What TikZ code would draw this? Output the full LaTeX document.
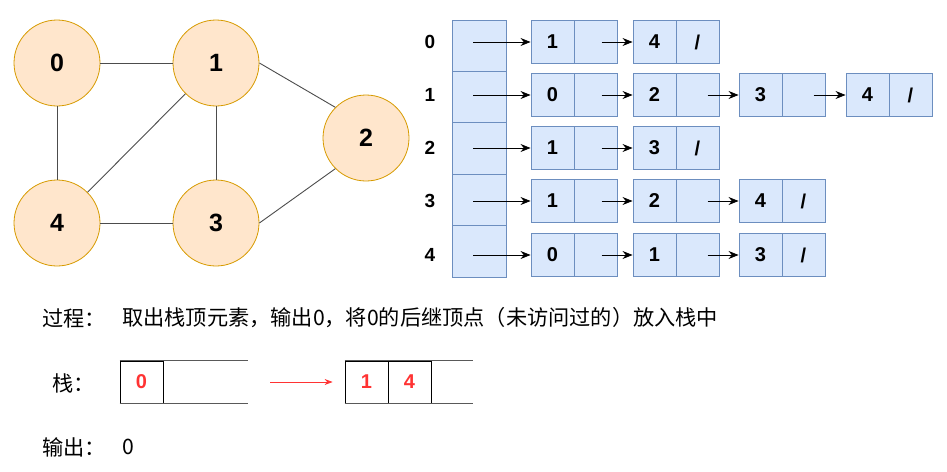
\documentclass[tikz,border=0pt]{standalone}
\usepackage{fontspec}
\setmainfont{Liberation Sans}
\newfontfamily\cjk{Noto Sans CJK SC}
\usetikzlibrary{arrows.meta,calc}
\definecolor{vfill}{HTML}{FFE6CC}
\definecolor{vdraw}{HTML}{D79B00}
\definecolor{bfill}{HTML}{DAE8FC}
\definecolor{bdraw}{HTML}{6C8EBF}
\definecolor{myred}{HTML}{FF3333}
\newcommand{\mklist}[5]{%
  \node[cell] (#1) at (#2+21.5,#3) {#4};
  \node[cell] (#1p) at (#2+64.5,#3) {#5};}
\begin{document}
\begin{tikzpicture}[x=1pt,y=-1pt,
 vert/.style={circle,fill=vfill,draw=vdraw,line width=0.8pt,minimum size=86pt,inner sep=0pt,font=\fontsize{25}{25}\selectfont\bfseries},
 edge/.style={draw=black!70,line width=0.9pt},
 cell/.style={rectangle,fill=bfill,draw=bdraw,line width=0.9pt,minimum height=43pt,minimum width=43pt,inner sep=0pt,font=\fontsize{20}{20}\selectfont\bfseries},
 arrcell/.style={rectangle,fill=bfill,draw=bdraw,line width=0.9pt,minimum height=51.4pt,minimum width=54pt,inner sep=0pt},
 rowlab/.style={font=\fontsize{19}{19}\selectfont\bfseries},
 arr/.style={draw=black,line width=0.8pt,-{Stealth[length=10pt,width=8pt]}},
 stk/.style={rectangle,draw=black,line width=0.8pt,minimum height=42pt,minimum width=43pt,inner sep=0pt,text=myred,font=\fontsize{20}{20}\selectfont\bfseries},
 stkline/.style={draw=black!65,line width=1.4pt},
 cjktxt/.style={font=\cjk\fontsize{21.2}{21.2}\selectfont,inner sep=0pt,anchor=west}
]
\useasboundingbox (0,0) rectangle (947,471);
% graph
\node[vert] (v0) at (57,63) {0};
\node[vert] (v1) at (216,63) {1};
\node[vert] (v2) at (366,138) {2};
\node[vert] (v3) at (216,223) {3};
\node[vert] (v4) at (57,223) {4};
\draw[edge] (v0) -- (v1);
\draw[edge] (v0) -- (v4);
\draw[edge] (v1) -- (v4);
\draw[edge] (v1) -- (v3);
\draw[edge] (v4) -- (v3);
\draw[edge] (v1.east) -- (v2.north west);
\draw[edge] (v3.east) -- (v2.south west);
% array
\foreach \i in {0,...,4}{
  \node[arrcell] (a\i) at (479,{45.7+51.4*\i}) {};
}
\node[rowlab] (l0) at (430,42) {0};
\node[rowlab] (l1) at (430,95) {1};
\node[rowlab] (l2) at (430,148) {2};
\node[rowlab] (l3) at (430,201) {3};
\node[rowlab] (l4) at (430,255) {4};
% lists
\mklist{r0a}{531}{42}{1}{}
\mklist{r0b}{633}{42}{4}{/}
\mklist{r1a}{531}{95}{0}{}
\mklist{r1b}{633}{95}{2}{}
\mklist{r1c}{739}{95}{3}{}
\mklist{r1d}{846}{95}{4}{/}
\mklist{r2a}{531}{148}{1}{}
\mklist{r2b}{633}{148}{3}{/}
\mklist{r3a}{531}{201}{1}{}
\mklist{r3b}{633}{201}{2}{}
\mklist{r3c}{739}{201}{4}{/}
\mklist{r4a}{531}{255}{0}{}
\mklist{r4b}{633}{255}{1}{}
\mklist{r4c}{739}{255}{3}{/}
\draw[arr] ([xshift=-6pt]a0.center |- r0a.west) -- (r0a.west);
\draw[arr] ([xshift=-6pt]a1.center |- r1a.west) -- (r1a.west);
\draw[arr] ([xshift=-6pt]a2.center |- r2a.west) -- (r2a.west);
\draw[arr] ([xshift=-6pt]a3.center |- r3a.west) -- (r3a.west);
\draw[arr] ([xshift=-6pt]a4.center |- r4a.west) -- (r4a.west);
\draw[arr] ([xshift=6pt]r0ap.center) -- (r0b.west);
\draw[arr] ([xshift=6pt]r1ap.center) -- (r1b.west);
\draw[arr] ([xshift=10pt]r1bp.center) -- (r1c.west);
\draw[arr] ([xshift=10pt]r1cp.center) -- (r1d.west);
\draw[arr] ([xshift=6pt]r2ap.center) -- (r2b.west);
\draw[arr] ([xshift=6pt]r3ap.center) -- (r3b.west);
\draw[arr] ([xshift=10pt]r3bp.center) -- (r3c.west);
\draw[arr] ([xshift=6pt]r4ap.center) -- (r4b.west);
\draw[arr] ([xshift=10pt]r4bp.center) -- (r4c.west);
% bottom text
\node[cjktxt] (t1) at (42,318) {过程：};
\node[cjktxt] (t2) at (122,318) {取出栈顶元素，输出0，将0的后继顶点（未访问过的）放入栈中};
\node[cjktxt] (t3) at (52,383) {栈：};
\node[cjktxt] (t4) at (42,447) {输出：};
\node[cjktxt] (t5) at (122,447) {0};
% stacks
\coordinate (s0e) at (248,382);
\coordinate (u1e) at (473,382);
\node[stk] (s0) at (141.5,382) {0};
\node[stk] (u0) at (366.5,382) {1};
\node[stk] (u1) at (409.5,382) {4};
\draw[stkline] (s0.north west) -- (s0.north west -| s0e);
\draw[stkline] (s0.south west) -- (s0.south west -| s0e);
\draw[stkline] (u0.north west) -- (u0.north west -| u1e);
\draw[stkline] (u0.south west) -- (u0.south west -| u1e);
\draw[draw=myred,line width=0.8pt,-{Stealth[length=8pt,width=6pt]},shorten <=22pt,shorten >=12pt] (s0e) -- (u0.west);
\end{tikzpicture}
\end{document}
